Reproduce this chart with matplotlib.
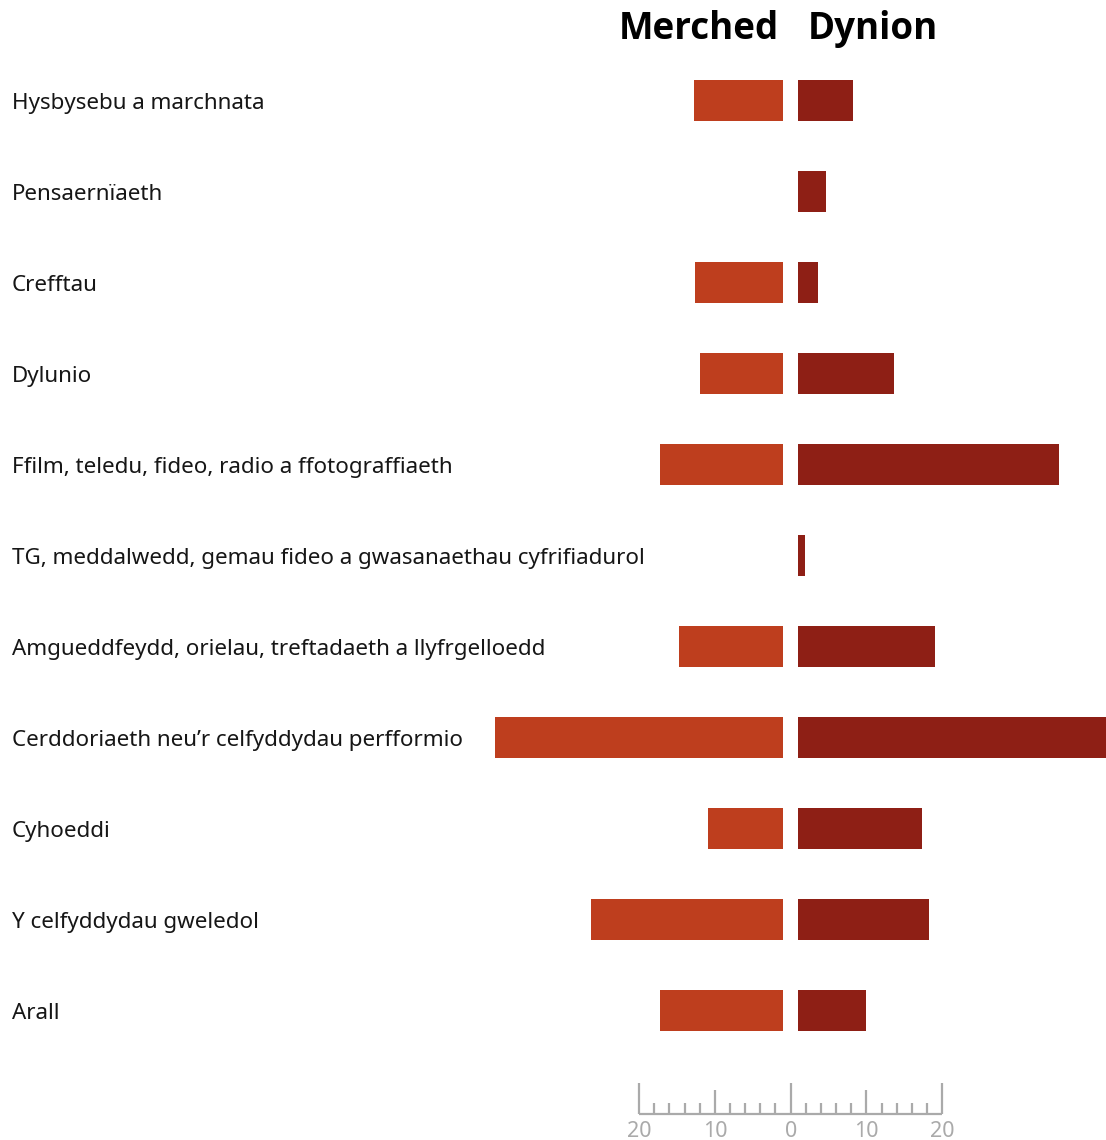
import numpy as np
import matplotlib
matplotlib.use("Agg")
import matplotlib.pyplot as plt

# Data (percent)
categories = [
    "Hysbysebu a marchnata",
    "Pensaernïaeth",
    "Crefftau",
    "Dylunio",
    "Ffilm, teledu, fideo, radio a ffotograffiaeth",
    "TG, meddalwedd, gemau fideo a gwasanaethau cyfrifiadurol",
    "Amgueddfeydd, orielau, treftadaeth a llyfrgelloedd",
    "Cerddoriaeth neu\u2019r celfyddydau perfformio",
    "Cyhoeddi",
    "Y celfyddydau gweledol",
    "Arall",
]
merched = [11.8, 0, 11.6, 10.9, 16.3, 0, 13.7, 38.0, 9.9, 25.3, 16.3]
dynion = [7.2, 3.6, 2.6, 12.6, 34.4, 0.9, 18.0, 41.0, 16.3, 17.2, 9.0]
scale_ticks = [-20, -10, 0, 10, 20]
scale_labels = ["20", "10", "0", "10", "20"]

col_merched = "#BE3E1E"
col_dynion = "#8E1F15"
col_scale = "#aaaaaa"

plt.rcParams['font.family'] = ['Noto Sans', 'DejaVu Sans']

fig = plt.figure(figsize=(11.06, 11.4), dpi=100)
ax = fig.add_axes([0, 0, 1, 1])
ax.axis('off')

y = np.arange(len(categories))
gap = 1.0
ax.barh(y, [-v for v in merched], left=-gap, height=0.45, color=col_merched, linewidth=0)
ax.barh(y, dynion, left=gap, height=0.45, color=col_dynion, linewidth=0)

ax.set_xlim(-104.3, 41.6)
ax.set_ylim(11.423, -1.104)

# category labels
for i, lab in enumerate(categories):
    ax.text(0.0108, i + 0.03, lab, transform=ax.get_yaxis_transform(), ha='left', va='center',
            fontsize=16.1, color='#161616')

# column titles
ax.text(-1.6, -0.79, "Merched", ha='right', va='center', fontsize=26.5, fontweight='bold',
        family=['Open Sans', 'DejaVu Sans'], color='black')
ax.text(2.2, -0.79, "Dynion", ha='left', va='center', fontsize=26.5, fontweight='bold',
        family=['Open Sans', 'DejaVu Sans'], color='black')

# scale legend at the bottom
base = 11.137
ax.plot([-20, 20], [base, base], color=col_scale, lw=1.6, solid_capstyle='butt')
for t in range(-20, 21, 2):
    if t % 20 == 0:
        h = 0.341
    elif t % 10 == 0:
        h = 0.264
    else:
        h = 0.121
    ax.plot([t, t], [base, base - h], color=col_scale, lw=1.6, solid_capstyle='butt')
for t, lab in zip(scale_ticks, scale_labels):
    ax.text(t, 11.39, lab, ha='center', va='baseline', fontsize=15.5, color=col_scale)

fig.savefig("out.png", dpi=100)
